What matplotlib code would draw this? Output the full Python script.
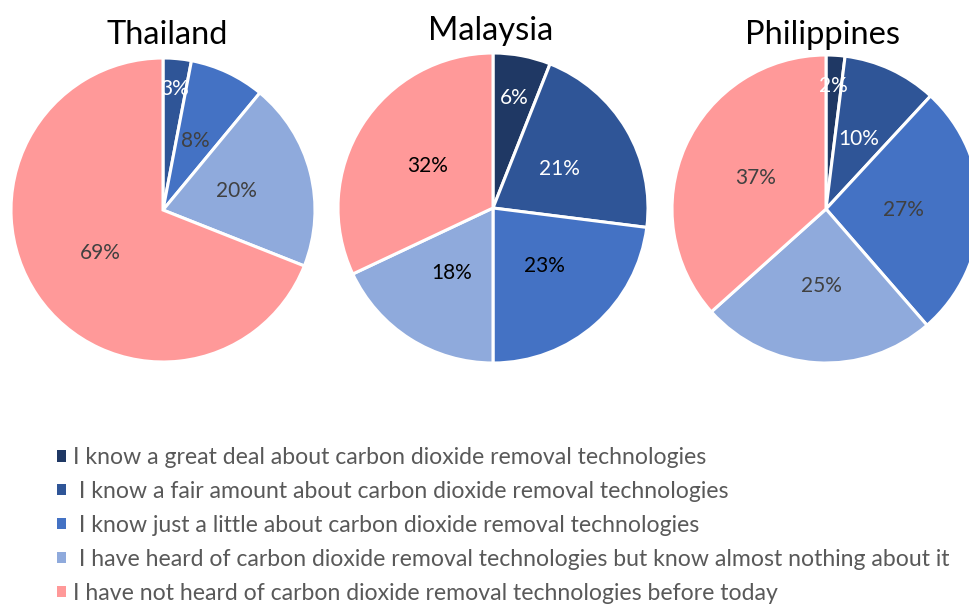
import matplotlib.pyplot as plt
from matplotlib.patches import Patch

plt.rcParams['font.family'] = ['Lato', 'DejaVu Sans']

# survey categories and colours
categories = [
    "I know a great deal about carbon dioxide removal technologies",
    " I know a fair amount about carbon dioxide removal technologies",
    " I know just a little about carbon dioxide removal technologies",
    " I have heard of carbon dioxide removal technologies but know almost nothing about it",
    "I have not heard of carbon dioxide removal technologies before today",
]
colors = ['#1F3864', '#2F5597', '#4472C4', '#8FAADC', '#FF9999']

countries = ["Thailand", "Malaysia", "Philippines"]
thailand = [0, 3, 8, 20, 69]
malaysia = [6, 21, 23, 18, 32]
philippines = [2, 10, 27, 25, 37]
shares = [thailand, malaysia, philippines]

W, H = 970, 604
fig = plt.figure(figsize=(W / 100, H / 100), dpi=100)

# pie centre (px), radius (px), title centre x, title baseline y, label colour
layout = [
    (163, 210, 152, 167, 44, '#404040'),
    (493, 208, 155, 491, 40, '#000000'),
    (826, 209, 154, 823, 44, '#404040'),
]

pad = 1.05
for name, vals, (cx, cy, r, tx, ty, dark) in zip(countries, shares, layout):
    ax = fig.add_axes([(cx - r * pad) / W, (H - cy - r * pad) / H,
                       2 * r * pad / W, 2 * r * pad / H])
    keep = [i for i, v in enumerate(vals) if v > 0]
    v = [vals[i] for i in keep]
    c = [colors[i] for i in keep]
    wedges, texts, autotexts = ax.pie(
        v, colors=c, startangle=90, counterclock=False,
        autopct='%d', pctdistance=0.5,
        wedgeprops=dict(edgecolor='white', linewidth=2.2),
        textprops=dict(fontsize=15))
    for i, t, val in zip(keep, autotexts, v):
        # show the reported share, not the renormalised one
        t.set_text(f"{val}%")
        t.set_color('white' if i < 2 else dark)
        if val < 7:
            x, y = t.get_position()
            s = 0.8 / 0.5 if val < 4 else 0.72 / 0.5
            t.set_position((x * s, y * s))
    ax.set_xlim(-pad, pad)
    ax.set_ylim(-pad, pad)
    ax.set_aspect('equal')
    ax.axis('off')
    fig.text(tx / W, 1 - ty / H, name, ha='center', va='baseline',
             fontsize=23.5, color='black')

handles = [Patch(facecolor=col, edgecolor='none') for col in colors]
fig.legend(handles, categories, loc='upper left',
           bbox_to_anchor=(57 / W, 1 - 447 / H), frameon=False,
           fontsize=16.6, labelcolor='#595959', handlelength=0.4,
           handleheight=0.4, handletextpad=0.3, labelspacing=0.56,
           borderaxespad=0, borderpad=0)

fig.savefig('out.png', dpi=100)
